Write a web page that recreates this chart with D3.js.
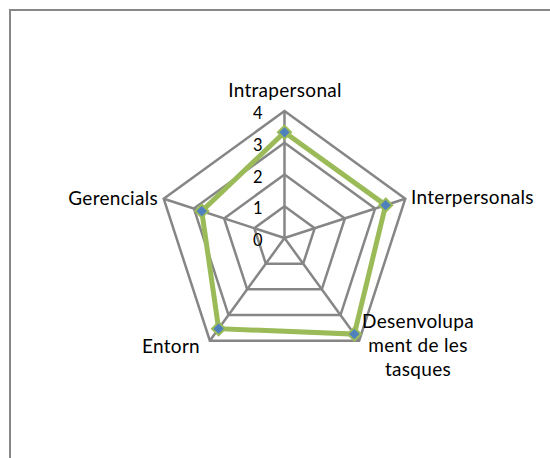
<!DOCTYPE html>
<html><head><meta charset="utf-8">
<script src="https://cdn.jsdelivr.net/npm/d3@7/dist/d3.min.js"></script>
<style>body{margin:0;background:#fff}svg{display:block}</style>
</head><body>
<script>
const categories = ["Intrapersonal", "Interpersonals", "Desenvolupament de les tasques", "Entorn", "Gerencials"];
const categoryLines = [["Intrapersonal"], ["Interpersonals"], ["Desenvolupa", "ment de les", "tasques"], ["Entorn"], ["Gerencials"]];
const values = [3.33, 3.35, 3.74, 3.53, 2.74];
const tickValues = [0, 1, 2, 3, 4];

const W = 550, H = 458;
const cx = 284.5, cy = 238, R = 127;
const FONT = "Lato, 'Open Sans', sans-serif";
const svg = d3.select("body").append("svg").attr("width", W).attr("height", H);
svg.append("rect").attr("x", 10).attr("y", 10).attr("width", 560).attr("height", 470)
  .attr("fill", "#fff").attr("stroke", "#878787").attr("stroke-width", 2);

const r = d3.scaleLinear().domain([0, 4]).range([0, R]);
const angle = d3.scalePoint().domain(categories).range([0, 2 * Math.PI * (categories.length - 1) / categories.length]);
const pt = (c, v) => { const a = angle(c); return [cx + r(v) * Math.sin(a), cy - r(v) * Math.cos(a)]; };
const g = svg.append("g");
const grid = "#868686";
tickValues.filter(t => t > 0).forEach(t => {
  g.append("path").attr("d", d3.line()(categories.map(c => pt(c, t))) + "Z")
    .attr("fill", "none").attr("stroke", grid).attr("stroke-width", 2.5);
});
categories.forEach(c => {
  const [x, y] = pt(c, 4);
  g.append("line").attr("x1", cx).attr("y1", cy).attr("x2", x).attr("y2", y)
    .attr("stroke", grid).attr("stroke-width", 2.5);
});
// tick labels
tickValues.forEach(t => {
  g.append("text").attr("x", cx - 22).attr("y", cy - r(t) + 8).attr("text-anchor", "end")
    .attr("font-family", FONT).attr("font-size", 16.5).attr("fill", "#000").text(t);
});
// series
const pts = categories.map((c, i) => pt(c, values[i]));
g.append("path").attr("d", d3.line()(pts) + "Z").attr("fill", "none")
  .attr("stroke", "#9BBB59").attr("stroke-width", 5).attr("stroke-linejoin", "miter");
g.selectAll(".m").data(pts).enter().append("path")
  .attr("transform", d => `translate(${d[0]},${d[1]})`)
  .attr("d", d3.symbol().type(d3.symbolDiamond2).size(110))
  .attr("fill", "#4F81BD").attr("stroke", "#9BBB59").attr("stroke-width", 2);
// category labels
const labelPos = [
  {x: 285, y: 97, anchor: "middle"},
  {x: 411, y: 204, anchor: "start"},
  {x: 418, y: 328, anchor: "middle"},
  {x: 200, y: 353, anchor: "end"},
  {x: 158, y: 205, anchor: "end"}
];
categoryLines.forEach((lines, i) => {
  const p = labelPos[i];
  const t = g.append("text").attr("x", p.x).attr("y", p.y).attr("text-anchor", p.anchor)
    .attr("font-family", FONT).attr("font-size", 19).attr("letter-spacing", 0.3).attr("fill", "#000");
  lines.forEach((l, j) => t.append("tspan").attr("x", p.x).attr("dy", j === 0 ? 0 : 24).text(l));
});
</script>
</body></html>
